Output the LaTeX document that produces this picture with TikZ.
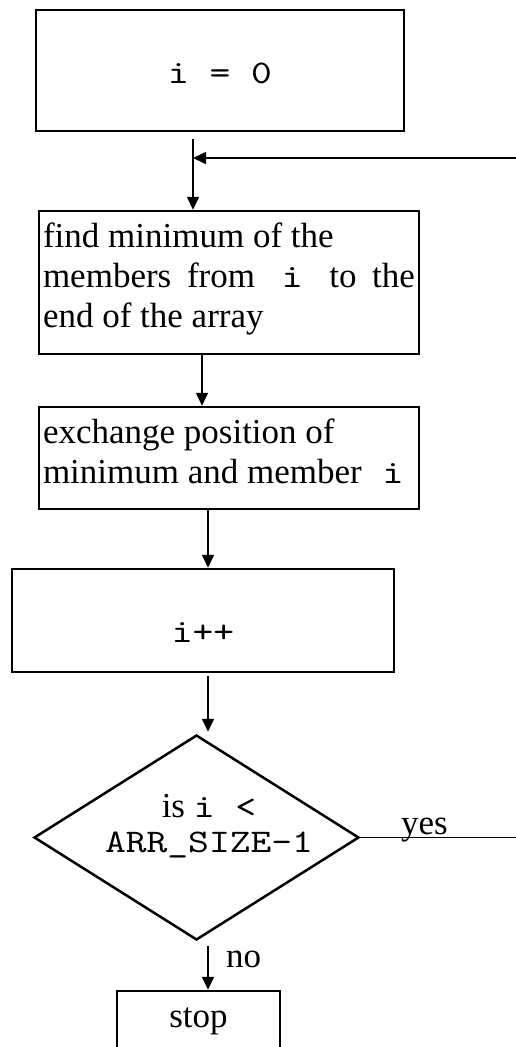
\documentclass[tikz,border=0pt]{standalone}
\usepackage{fontspec}
\setmainfont{Liberation Serif}
\newfontfamily\codefont{lmmono10-regular.otf}[FakeStretch=1.2]
\usetikzlibrary{arrows.meta,shapes.geometric}

% text block of fixed size; first baseline sits #3 below its top
\newcommand{\boxlines}[4]{\parbox[c][#2][t]{#1}{\rule{0pt}{#3}#4}}
% program text
\newcommand{\cd}[1]{{\fontsize{33}{40}\codefont #1}}

\tikzset{
  txt/.style={font=\fontsize{35}{40}\selectfont},
  stepbox/.style={draw, line width=2.5pt, inner sep=0pt, txt},
  decbox/.style={draw, diamond, line width=2.5pt, inner sep=0pt},
  flow/.style={line width=1.6pt, -{Triangle[length=13pt,width=12pt]}},
  lbl/.style={txt, inner sep=0pt, anchor=base west},
}

\begin{document}
\begin{tikzpicture}[x=1pt, y=-1pt]
\useasboundingbox (0,0) rectangle (516,1047);
\fill[white] (0,0) rectangle (516,1047);
\clip (0,0) rectangle (516,1047);

% process steps
\node[stepbox, minimum width=368pt, minimum height=121pt] (start) at (220,70.5)
  {\boxlines{360pt}{121pt}{73pt}{\centering\cd{i = 0}}};
\node[stepbox, minimum width=380pt, minimum height=143pt] (find) at (229,282.5)
  {\boxlines{372pt}{143pt}{36pt}{find minimum of the\\
   members from\hspace{11pt} \cd{i} \hspace{11pt}to the\linebreak end of the array}};
\node[stepbox, minimum width=380pt, minimum height=102pt] (exch) at (229,458)
  {\boxlines{372pt}{102pt}{36pt}{exchange position of\\
   minimum and member\hspace{12pt} \cd{i}}};
\node[stepbox, minimum width=382pt, minimum height=103pt] (inc) at (203,620.5)
  {\boxlines{374pt}{103pt}{73pt}{\centering\cd{i++}}};

% loop test
\node[decbox, minimum width=325pt, minimum height=205pt] (dec) at (196.5,837.5) {};
\node[inner sep=0pt, font=\fontsize{35}{35}\selectfont] (dectext) at (209,827)
  {\boxlines{260pt}{80pt}{30pt}{\centering is \cd{i <}\\ \cd{ARR\_SIZE-1}}};

\node[stepbox, minimum width=163pt, minimum height=100pt] (stop) at (198.5,1041)
  {\boxlines{155pt}{100pt}{36pt}{\centering stop}};

% branch labels
\node[lbl] (yes) at (401,834) {yes};
\node[lbl] (no) at (226,967) {no};

% connectors
\coordinate (j) at (193,158);
\draw[flow] ([yshift=-7pt]start.south -| j) -- (j |- find.north);
\draw[flow] ([xshift=-27pt]find.south) -- ([xshift=-27pt]exch.north);
\draw[flow] ([xshift=-21pt]exch.south) -- ([xshift=-21pt]exch.south |- inc.north);
\draw[flow] ([xshift=5pt,yshift=-3pt]inc.south) -- ([xshift=11.5pt,yshift=2pt]dec.north);
\draw[flow] ([xshift=11.5pt,yshift=-5pt]dec.south) -- ([xshift=11.5pt]dec.south |- stop.north);
\draw[flow] (dec.east) -- ++(190,0) |- (j);
\end{tikzpicture}
\end{document}
